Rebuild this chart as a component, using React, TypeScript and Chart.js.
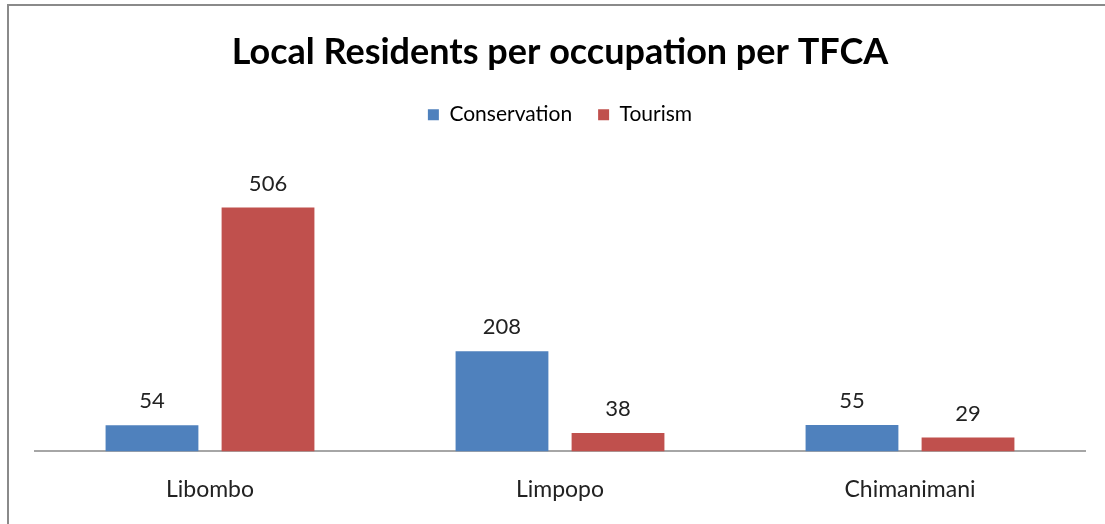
import React, { useEffect, useRef } from "react";
import { Chart, registerables } from "chart.js";

Chart.register(...registerables);

const categories = ["Libombo", "Limpopo", "Chimanimani"];
const conservation = [54, 208, 55];
const tourism = [506, 38, 29];
const seriesNames = ["Conservation", "Tourism"];
const chartTitle = "Local Residents per occupation per TFCA";

const FONT = "Lato, 'Open Sans', 'Liberation Sans', sans-serif";

const valueLabels = {
  id: "valueLabels",
  afterDatasetsDraw(chart: any) {
    const ctx = chart.ctx;
    ctx.save();
    ctx.font = `22px ${FONT}`;
    ctx.fillStyle = "#222";
    ctx.textAlign = "center";
    ctx.textBaseline = "bottom";
    chart.data.datasets.forEach((ds: any, i: number) => {
      const meta = chart.getDatasetMeta(i);
      meta.data.forEach((bar: any, j: number) => {
        ctx.fillText(String(ds.data[j]), bar.x, bar.y - 13);
      });
    });
    ctx.restore();
  },
};

const legendMargin = {
  id: "legendMargin",
  beforeInit(chart: any) {
    const lg = chart.legend;
    if (!lg) return;
    const fit = lg.fit;
    lg.fit = function () {
      fit.call(this);
      this.height += 27;
    };
  },
};

export default function App() {
  const ref = useRef<HTMLCanvasElement>(null);
  useEffect(() => {
    if (!ref.current) return;
    const chart = new Chart(ref.current, {
      type: "bar",
      data: {
        labels: categories,
        datasets: [
          { label: seriesNames[0], data: conservation, backgroundColor: "#4F81BD" },
          { label: seriesNames[1], data: tourism, backgroundColor: "#C0504D" },
        ],
      },
      options: {
        animation: false,
        responsive: false,
        maintainAspectRatio: false,
        layout: { padding: { left: 35, right: 20, top: 20, bottom: -3 } },
        datasets: { bar: { categoryPercentage: 0.663, barPercentage: 0.8 } },
        plugins: {
          title: {
            display: true,
            text: chartTitle,
            color: "#000",
            font: { family: FONT, size: 36, weight: "bold" },
            padding: { top: 11, bottom: 4 },
          },
          legend: {
            display: true,
            labels: {
              color: "#000",
              boxWidth: 11,
              boxHeight: 11,
              font: { family: FONT, size: 21 },
              padding: 26,
            },
          },
          tooltip: { enabled: false },
        },
        scales: {
          x: {
            grid: { display: false, drawTicks: false, tickLength: 0 },
            border: { display: true, color: "#a6a6a6", width: 2 },
            ticks: { color: "#222", font: { family: FONT, size: 23 }, padding: 24 },
          },
          y: {
            display: false,
            min: 0,
            max: 600,
          },
        },
      },
      plugins: [valueLabels, legendMargin],
    });
    return () => chart.destroy();
  }, []);
  return (
    <div style={{ position: "fixed", left: 0, top: 0, width: 1105, height: 524, background: "#fff", overflow: "hidden" }}>
      <div style={{ position: "absolute", left: 7, top: 4, width: 1200, height: 600, borderTop: "2px solid #8a8a8a", borderLeft: "2px solid #8a8a8a" }} />
      <canvas ref={ref} width={1105} height={524} style={{ position: "absolute", left: 0, top: 0 }} />
    </div>
  );
}
